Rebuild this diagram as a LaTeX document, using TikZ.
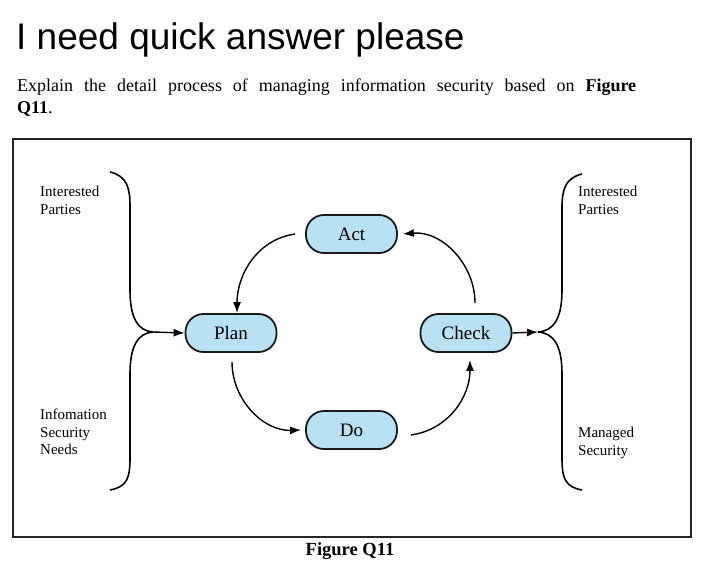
\documentclass[tikz,border=0pt]{standalone}
\usepackage{fontspec}
\setmainfont{Liberation Serif}
\newfontfamily\titlefont{Liberation Sans}
\usetikzlibrary{arrows.meta}
\definecolor{boxblue}{RGB}{184,226,244}
\tikzstyle{mystage}=[draw=black!90,fill=boxblue,line width=1.8pt,rounded corners=18pt,minimum width=91pt,minimum height=38pt,font=\fontsize{19}{21}\selectfont]
\tikzstyle{myarrow}=[line width=1.4pt,>={Latex[length=11pt,width=8pt]},->]
\tikzstyle{mybrace}=[line width=1.6pt]
\tikzstyle{mylabel}=[anchor=north west,align=left,inner sep=0pt,font=\fontsize{15}{17.5}\selectfont]

\begin{document}
\begin{tikzpicture}[x=1pt,y=1pt]
		\useasboundingbox (0,0) rectangle (705,-573);
		% question text
		\node[anchor=base west,inner sep=0pt,font=\titlefont\fontsize{37}{40}\selectfont] (title) at (16,-49) {I need quick answer please};
		\node[anchor=base west,inner sep=0pt,text width=619pt,align=justify,font=\fontsize{18}{22}\selectfont] (question) at (17,-91)
			{Explain the detail process of managing information security based on \textbf{Figure}\linebreak \textbf{Q11}.};
		\draw[line width=1.8pt,black!85] (13,-139) rectangle (691,-537);
		\node[font=\bfseries\fontsize{18.5}{20}\selectfont] (caption) at (350,-551) {Figure Q11};

		% the four stages
		\node[mystage] (act) at (351.5,-234) {Act};
		\node[mystage] (plan) at (231,-333) {Plan};
		\node[mystage] (check) at (466,-333) {Check};
		\node[mystage] (do) at (351.5,-430) {Do};

		\draw[myarrow] ([xshift=-10pt]act.west) to[out=188,in=90] ([xshift=6pt]plan.north);
		\draw[myarrow] ([yshift=-9pt,xshift=1pt]plan.south) to[out=270,in=182] ([xshift=-4pt]do.west);
		\draw[myarrow] ([xshift=13pt,yshift=-5pt]do.east) to[out=8,in=270] ([yshift=-7pt,xshift=4pt]check.south);
		\draw[myarrow] ([yshift=10pt,xshift=9pt]check.north) to[out=90,in=5] ([xshift=5pt]act.east);

		% braces
		\coordinate (inTip) at (153,-332);
		\coordinate (outTip) at (538,-332);
		\draw[mybrace] (110,-172) .. controls (127,-176) and (130,-188) .. (130,-206) -- (130,-290) .. controls (130,-318) and (138,-331) .. (inTip);
		\draw[mybrace] (inTip) .. controls (138,-333) and (130,-346) .. (130,-374) -- (130,-458) .. controls (130,-478) and (127,-487) .. (110,-490);
		\draw[mybrace] (582,-174) .. controls (565,-178) and (562,-190) .. (562,-208) -- (562,-290) .. controls (562,-318) and (554,-331) .. (outTip);
		\draw[mybrace] (outTip) .. controls (554,-333) and (562,-346) .. (562,-374) -- (562,-458) .. controls (562,-478) and (565,-487) .. (582,-490);
		\draw[myarrow] (inTip) -- (plan.west);
		\draw[myarrow] (check.east) -- (outTip);

		\node[mylabel] (inParties) at (40,-186) {Interested\\Parties};
		\node[mylabel] (inNeeds) at (40,-409) {Infomation\\Security\\Needs};
		\node[mylabel] (outParties) at (578,-186) {Interested\\Parties};
		\node[mylabel] (outSecurity) at (578,-427) {Managed\\Security};
	\end{tikzpicture}
\end{document}
